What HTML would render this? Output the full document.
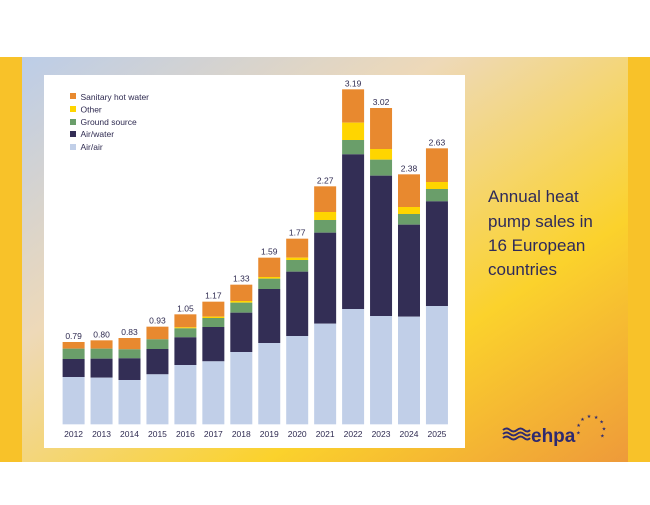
<!DOCTYPE html>
<html><head><meta charset="utf-8"><style>
body{margin:0;width:650px;height:500px;background:#fff;overflow:hidden;font-family:"Liberation Sans",sans-serif}
</style></head><body>
<svg width="650" height="500" viewBox="0 0 650 500" xmlns="http://www.w3.org/2000/svg" font-family="Liberation Sans, sans-serif">
<defs>
<linearGradient id="bg" x1="0" y1="0" x2="1" y2="1">
<stop offset="0" stop-color="#bccde8"/>
<stop offset="0.35" stop-color="#eed9b8"/>
<stop offset="0.7" stop-color="#fbd22c"/>
<stop offset="1" stop-color="#ee9a3a"/>
</linearGradient>
</defs>
<rect x="0" y="57" width="650" height="405" fill="#f8c229"/>
<rect x="22" y="57" width="606" height="405" fill="url(#bg)"/>
<rect x="44" y="75" width="421" height="373" fill="#fff"/>
<rect x="70" y="93" width="6" height="6" fill="#e8892f"/>
<rect x="70" y="106" width="6" height="6" fill="#ffd500"/>
<rect x="70" y="119" width="6" height="6" fill="#6a9e6a"/>
<rect x="70" y="131" width="6" height="6" fill="#332e55"/>
<rect x="70" y="144" width="6" height="6" fill="#c1cfe8"/>
<g font-size="8.5" fill="#2e2a50">
<text x="80.5" y="100">Sanitary hot water</text>
<text x="80.5" y="112.5">Other</text>
<text x="80.5" y="125">Ground source</text>
<text x="80.5" y="137">Air/water</text>
<text x="80.5" y="150">Air/air</text>
</g>
<g id="bars" transform="translate(0 50) scale(1 0.33333)"></g>
<g id="labels" font-size="8.5" fill="#2e2a50" text-anchor="middle"></g>
<g font-size="17" fill="#2e2a5a">
<text x="488" y="202">Annual heat</text>
<text x="488" y="227">pump sales in</text>
<text x="488" y="251">16 European</text>
<text x="488" y="275">countries</text>
</g>
<g fill="none" stroke="#2e2a70" stroke-width="2">
<path d="M503 430 q3.5 -3 7 0 t7 0 t7 0 t6 0"/>
<path d="M503 434 q3.5 -3 7 0 t7 0 t7 0 t6 0"/>
<path d="M503 438 q3.5 -3 7 0 t7 0 t7 0 t6 0"/>
</g>
<text x="531" y="442" font-size="19" font-weight="bold" fill="#2e2a70">ehpa</text>
<g id="stars" fill="#2e2a70" font-size="5" text-anchor="middle"></g>
<script>
var d=[[876,896,896,927,981],[871,896,896,926,983],[864,898,898,925,990],[830,868,868,897,973],[793,832,835,862,945],[755,800,804,831,934],[704,753,758,788,906],[623,681,686,717,879],[566,623,630,665,858],[409,486,510,548,821],[118,218,270,313,777],[174,297,329,377,798],[373,471,492,524,800],[295,396,417,454,768]];
var v=["0.79","0.80","0.83","0.93","1.05","1.17","1.33","1.59","1.77","2.27","3.19","3.02","2.38","2.63"];
var c=["#e8892f","#ffd500","#6a9e6a","#332e55","#c1cfe8"];
var ns="http://www.w3.org/2000/svg",g=document.getElementById("bars"),L=document.getElementById("labels");
d.forEach(function(b,i){var x=62.6+i*27.95;var ys=b.concat([1123]);
for(var k=0;k<5;k++){var h=ys[k+1]-ys[k];if(h<=0)continue;var r=document.createElementNS(ns,"rect");r.setAttribute("x",x);r.setAttribute("y",ys[k]);r.setAttribute("width",22);r.setAttribute("height",h);r.setAttribute("fill",c[k]);g.appendChild(r);}
var t=document.createElementNS(ns,"text");t.setAttribute("x",x+11);t.setAttribute("y",b[0]/3+47);t.textContent=v[i];L.appendChild(t);
var y=document.createElementNS(ns,"text");y.setAttribute("x",x+11);y.setAttribute("y",437);y.textContent=2012+i;L.appendChild(y);});
var S=document.getElementById("stars");
for(var a=-105;a<=150;a+=32){var r=a*Math.PI/180;var s=document.createElementNS(ns,"text");s.setAttribute("x",(591+13*Math.sin(r)).toFixed(1));s.setAttribute("y",(431-13*Math.cos(r)).toFixed(1));s.textContent="★";S.appendChild(s);}
</script>
</svg>
</body></html>
